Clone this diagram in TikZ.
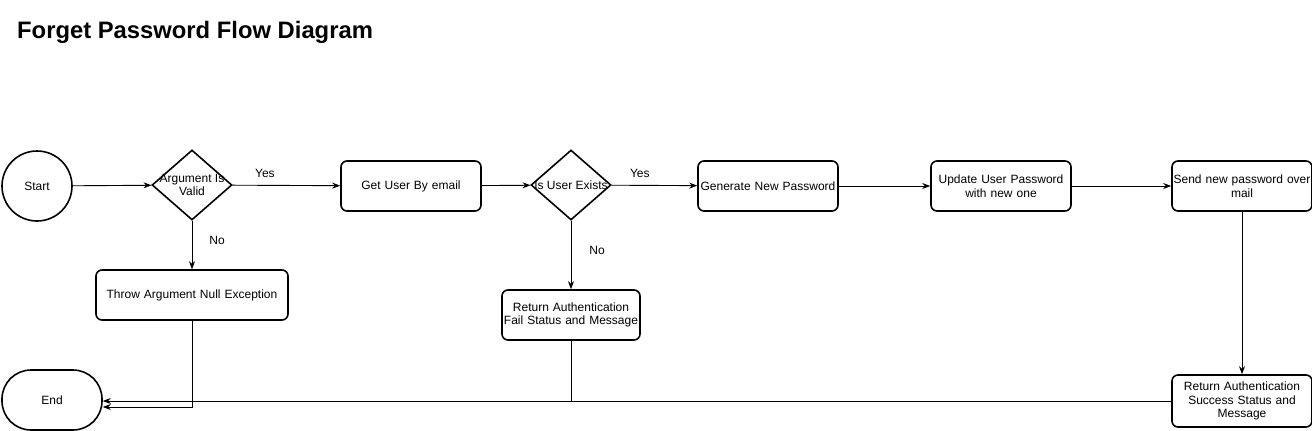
\documentclass[tikz,border=0pt]{standalone}
\usepackage{fontspec}
\setmainfont{Liberation Sans}
\usetikzlibrary{shapes.geometric,arrows.meta}
\begin{document}
\begin{tikzpicture}[x=1pt,y=-1pt,
  every node/.style={font=\fontsize{12}{13.5}\selectfont, align=center, inner sep=1pt},
  proc/.style={draw, line width=1.6pt, rounded corners=6pt, minimum width=140pt, minimum height=50pt, text width=138pt},
  dec/.style={draw, line width=1.6pt, diamond, minimum width=80pt, minimum height=70pt, inner sep=0pt, aspect=1.14},
  conn/.style={line width=0.9pt, -{Stealth[length=8pt,width=6pt]}},
  plain/.style={line width=0.9pt},
  lbl/.style={font=\fontsize{12}{13.5}\selectfont}]
\useasboundingbox (0,0) rectangle (1312,431);
\node[anchor=base west, font=\fontsize{23.8}{26}\selectfont\bfseries, inner sep=0pt] (title) at (17,38) {Forget Password Flow Diagram};

\node[draw, circle, line width=1.6pt, minimum size=70pt] (start) at (37,186) {Start};
\node[dec] (d1) at (192,185) {};
\node at (192,185) {Argument Is\\Valid};
\node[proc] (get) at (411,186) {Get User By email};
\node[dec] (d2) at (571,185) {};
\node at (571,185) {Is User Exists};
\node[proc] (gen) at (768,186) {Generate New Password};
\node[proc] (upd) at (1001,186) {Update User Password\\with new one};
\node[proc] (send) at (1242,186) {Send new password over\\mail};
\node[proc, minimum height=52pt] (succ) at (1242,401) {Return Authentication\\Success Status and\\Message};
\node[proc, minimum width=192pt, text width=190pt] (throw) at (192,295) {Throw Argument Null Exception};
\node[proc, minimum width=138pt, text width=136pt] (fail) at (571,315) {Return Authentication\\Fail Status and Message};
\node[draw, line width=1.6pt, rounded corners=29pt, minimum width=100pt, minimum height=60pt] (end) at (52,400) {End};

\draw[conn] (start) -- (d1);
\draw[conn] (d1) -- (get) node[lbl, pos=0.3, above=6pt] {Yes};
\draw[conn] (get) -- (d2);
\draw[conn] (d2) -- (gen) node[lbl, pos=0.33, above=6pt] {Yes};
\draw[conn] (gen) -- (upd);
\draw[conn] (upd) -- (send);
\draw[conn] (send) -- (succ);
\draw[conn] (d1) -- (throw) node[lbl, pos=0.4, right=16pt] {No};
\draw[conn] (d2) -- (fail) node[lbl, pos=0.43, right=17pt] {No};
\coordinate (e1) at (end.east |- 0,401);
\coordinate (e2) at (end.east |- 0,407);
\draw[conn] (succ.west |- 0,401) -- (e1);
\draw[conn] (throw.south) |- (e2);
\draw[plain] (fail.south) -- (fail.south |- 0,401);
\end{tikzpicture}
\end{document}
